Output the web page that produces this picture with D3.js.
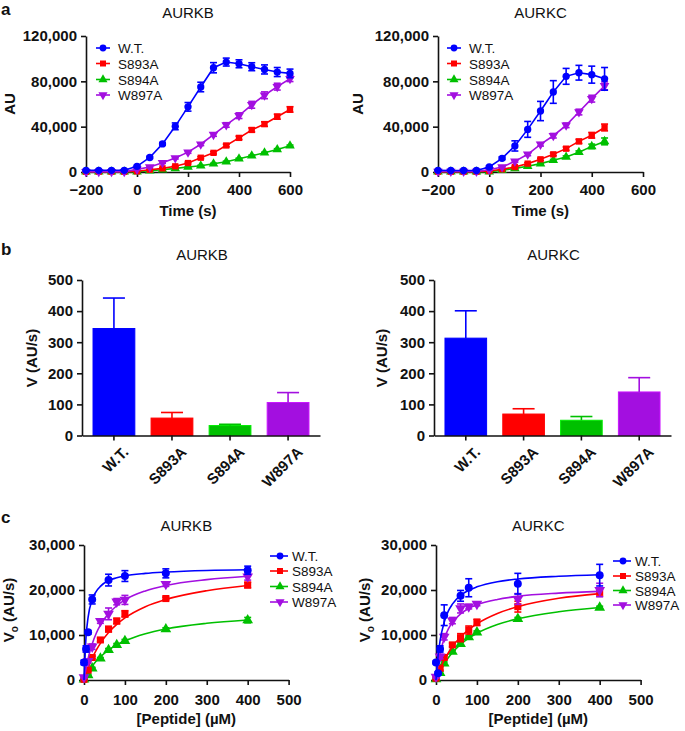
<!DOCTYPE html>
<html><head><meta charset="utf-8">
<script src="https://cdn.jsdelivr.net/npm/d3@7"></script>
<style>
body{margin:0;background:#fff}
svg{display:block}
text{font-family:"Liberation Sans",Arial,Helvetica,sans-serif}
</style></head>
<body><svg id="chart" width="685" height="731"></svg>
<script>
// ---------------- DATA ----------------
const seriesNames = ["W.T.", "S893A", "S894A", "W897A"];
const colors = ["#0000ff", "#ff0000", "#00c000", "#a30fe0"];
const shapes = ["circle", "square", "triangleUp", "triangleDown"];

// Panel a: time courses (AU)
const timeB = [-200,-150,-100,-50,0,50,100,150,200,250,300,350,400,450,500,550,600];
const aB_WT    = [1500,1500,1500,1500,5000,12800,24800,40300,57500,75000,92000,97000,95500,92900,90500,88200,87000];
const aB_S893A = [300,300,300,300,600,2000,3200,5000,7900,12600,16900,23400,30100,37100,42300,48800,55200];
const aB_S894A = [200,200,200,200,300,1200,2000,3200,4400,5500,7300,9100,11700,14300,16900,19900,23100];
const aB_W897A = [300,300,300,300,2300,4400,8200,12300,17500,24500,33000,41500,49700,59300,67700,75300,82300];
const eB_WT    = [600,600,600,600,700,900,1200,3000,3800,4200,4500,3500,3500,3500,4000,4000,3800];
const eB_S893A = [300,300,300,300,300,400,500,600,800,900,1000,1200,1500,1800,2000,2200,2400];
const eB_S894A = [200,200,200,200,200,200,300,300,300,400,400,500,500,600,600,700,700];
const eB_W897A = [300,300,300,300,400,500,600,800,1000,1200,1500,2000,2500,3000,3000,3000,2500];

const timeC = [-200,-150,-100,-50,0,50,100,150,200,250,300,350,400,450];
const aC_WT    = [1500,1300,1300,1300,4400,12100,23000,37600,53800,70600,84400,87600,85900,82200];
const aC_S893A = [300,300,300,300,900,2400,4400,7400,11200,15600,20600,27000,32400,39300];
const aC_S894A = [200,200,200,200,300,1500,3200,5000,7400,10300,13200,17400,22600,27000];
const aC_W897A = [500,500,500,500,2000,4400,9400,15600,24400,32000,41200,52900,64700,76000];
const eC_WT    = [500,500,500,500,800,1200,4500,7000,8500,10000,7000,6500,7500,10000];
const eC_S893A = [300,300,300,300,300,500,700,900,1000,1200,1500,1800,2500,3000];
const eC_S894A = [200,200,200,200,200,300,400,500,600,800,1000,1200,2000,3000];
const eC_W897A = [300,300,300,300,400,600,800,1200,1500,2000,2000,2500,3000,3500];

const timeTicks = [-200,0,200,400,600];
const auTicks = [0,40000,80000,120000];

// Panel b: velocities (AU/s)
const vB = [344, 56, 32, 106];
const vBerr = [98, 18, 4, 32];
const vC = [313, 69, 49, 140];
const vCerr = [88, 17, 12, 46];
const vTicks = [0,100,200,300,400,500];

// Panel c: Michaelis-Menten data (AU/s vs µM)
const pepWT_B = [0,5,10,20,60,100,200,400];
const pepMut = [0,10,20,40,60,80,100,200,400];
const pepWT_C = [0,5,10,20,60,80,200,400];
const cB_WT    = [3900,6900,10600,17900,22200,23100,23700,24400];
const cB_S893A = [150,2200,5000,8900,11300,13100,14700,18100,21100];
const cB_S894A = [150,1100,2600,4800,6700,7800,8700,11300,13300];
const cB_W897A = [600,4200,7400,13100,14700,17400,17800,21300,23000];
const ceB_WT    = [500,700,400,1000,1300,1200,1000,900];
const ceB_S893A = [200,300,300,400,600,600,700,300,600];
const ceB_S894A = [100,200,200,200,300,300,300,300,600];
const ceB_W897A = [200,400,600,500,1300,700,1000,500,800];
const cC_WT    = [3900,1500,6900,14400,18700,20500,21400,23300];
const cC_S893A = [400,2600,5000,7800,9400,11100,12800,16300,19500];
const cC_S894A = [200,1600,3700,6300,8000,9500,10600,13600,16100];
const cC_W897A = [700,5200,9600,13200,15900,16300,16900,18000,20000];
const ceC_WT    = [300,300,700,2300,1200,2000,2300,2400];
const ceC_S893A = [200,400,400,400,900,900,700,1200,900];
const ceC_S894A = [100,300,300,300,400,300,300,300,300];
const ceC_W897A = [300,500,700,700,1000,500,400,1200,1500];
// fitted curves
const fitX = [0,5,10,20,30,40,60,80,100,150,200,300,400];
const fitB_WT    = [0,9600,13900,17900,19700,20800,22100,22700,23150,23700,24000,24350,24500];
const fitB_S893A = [0,1400,2700,4850,6650,8150,10550,12350,13800,16300,17900,19850,21000];
const fitB_S894A = [0,900,1700,3050,4200,5150,6650,7800,8700,10300,11350,12600,13350];
const fitB_W897A = [0,2600,4750,8000,10400,12200,14750,16500,17800,19800,21000,22300,23050];
const fitC_WT    = [0,5300,8750,12850,15300,16850,18800,19950,20700,21850,22450,23050,23400];
const fitC_S893A = [0,1300,2400,4400,6000,7400,9550,11200,12500,14800,16300,18150,19200];
const fitC_S894A = [0,1050,1950,3600,4950,6050,7900,9300,10400,12350,13600,15150,16100];
const fitC_W897A = [0,3450,5900,9200,11300,12800,14700,15900,16700,17900,18600,19300,19700];
const pepTicks = [0,100,200,300,400,500];
const voTicks = [0,10000,20000,30000];

// ---------------- DRAWING ----------------
const svg = d3.select("#chart");
const fmt = d3.format(",");
const TICKFONT = 15;
const LEGFONT = 13.5;

function symbolPath(shape, size) {
  const t = {circle: d3.symbolCircle, square: d3.symbolSquare, triangleUp: d3.symbolTriangle, triangleDown: d3.symbolTriangle}[shape];
  return d3.symbol().type(t).size(size)();
}
function drawMarker(g, shape, x, y, size, color) {
  const p = g.append("path").attr("d", symbolPath(shape, size)).attr("fill", color);
  if (shape === "triangleDown") p.attr("transform", `translate(${x},${y}) rotate(180)`);
  else p.attr("transform", `translate(${x},${y})`);
}
function styleAxis(ax) {
  ax.selectAll("path.domain").attr("stroke", "#111").attr("stroke-width", 1.6);
  ax.selectAll(".tick line").attr("stroke", "#111").attr("stroke-width", 1.6);
  ax.selectAll(".tick text").attr("font-size", TICKFONT).attr("font-weight", "bold").attr("fill", "#111")
    .attr("font-family", '"Liberation Sans",Arial,sans-serif');
}
function errBar(g, x, yLo, yHi, color, cap) {
  g.append("line").attr("x1", x).attr("x2", x).attr("y1", yLo).attr("y2", yHi).attr("stroke", color).attr("stroke-width", 1.6);
  g.append("line").attr("x1", x - cap).attr("x2", x + cap).attr("y1", yHi).attr("y2", yHi).attr("stroke", color).attr("stroke-width", 1.6);
  g.append("line").attr("x1", x - cap).attr("x2", x + cap).attr("y1", yLo).attr("y2", yLo).attr("stroke", color).attr("stroke-width", 1.6);
}
function text(g, x, y, s, opts) {
  const t = g.append("text").attr("x", x).attr("y", y).text(s)
    .attr("font-size", opts.size || 15).attr("font-weight", opts.bold ? "bold" : "normal")
    .attr("text-anchor", opts.anchor || "middle").attr("fill", "#111");
  if (opts.rotate) t.attr("transform", `rotate(${opts.rotate},${x},${y})`);
  return t;
}
function legend(g, lx, tx, ys, size, lineL, lineR) {
  seriesNames.forEach((n, i) => {
    g.append("line").attr("x1", lx - lineL).attr("x2", lx + lineR).attr("y1", ys[i]).attr("y2", ys[i])
      .attr("stroke", colors[i]).attr("stroke-width", 1.6);
    drawMarker(g, shapes[i], lx, ys[i], size, colors[i]);
    text(g, tx, ys[i] + 5, n, {size: LEGFONT, anchor: "start"});
  });
}

// ---- Panel a ----
function panelA(left, right, times, vals, errs, title, legendX, ylabOff) {
  const g = svg.append("g");
  const x = d3.scaleLinear().domain([-200, 600]).range([left, right]);
  const y = d3.scaleLinear().domain([0, 120000]).range([172, 36]);
  const ax = g.append("g").attr("transform", "translate(0,172)")
    .call(d3.axisBottom(x).tickValues(timeTicks).tickFormat(fmt).tickSize(5).tickSizeOuter(0).tickPadding(7));
  const ay = g.append("g").attr("transform", `translate(${left},0)`)
    .call(d3.axisLeft(y).tickValues(auTicks).tickFormat(fmt).tickSize(5).tickSizeOuter(0).tickPadding(4));
  styleAxis(ax); styleAxis(ay);
  [2, 1, 3, 0].forEach(i => {
    const data = times.map((t, k) => ({t, v: vals[i][k], e: errs[i][k]}));
    g.append("path").datum(data).attr("fill", "none").attr("stroke", colors[i]).attr("stroke-width", 1.6)
      .attr("d", d3.line().x(d => x(d.t)).y(d => y(d.v)));
    data.forEach(d => errBar(g, x(d.t), y(d.v - d.e), y(d.v + d.e), colors[i], 3.5));
    data.forEach(d => drawMarker(g, shapes[i], x(d.t), y(d.v), i === 0 ? 42 : 40, colors[i]));
  });
  text(g, (left + right) / 2, 18, title, {size: 15});
  text(g, (left + right) / 2, 216, "Time (s)", {size: 15, bold: true});
  text(g, left - ylabOff, 104, "AU", {size: 15, bold: true, rotate: -90});
  legend(g, legendX, legendX + 15, [48, 63.5, 79.5, 95], 36, 7, 7);
}
panelA(86, 290, timeB, [aB_WT, aB_S893A, aB_S894A, aB_W897A], [eB_WT, eB_S893A, eB_S894A, eB_W897A], "AURKB", 103, 71);
panelA(438, 643, timeC, [aC_WT, aC_S893A, aC_S894A, aC_W897A], [eC_WT, eC_S893A, eC_S894A, eC_W897A], "AURKC", 454, 75);

// ---- Panel b ----
function panelB(left, right, vals, errs, title, ylabOff) {
  const g = svg.append("g");
  const x = d3.scaleBand().domain(seriesNames).range([left, right]).paddingInner(0.28).paddingOuter(0.19);
  const y = d3.scaleLinear().domain([0, 500]).range([435.5, 280]);
  seriesNames.forEach((n, i) => {
    g.append("rect").attr("x", x(n)).attr("width", x.bandwidth()).attr("y", y(vals[i])).attr("height", y(0) - y(vals[i]))
      .attr("fill", colors[i]).attr("stroke", d3.color(colors[i]).brighter(0.6)).attr("stroke-width", 1);
    const cx = x(n) + x.bandwidth() / 2;
    g.append("line").attr("x1", cx).attr("x2", cx).attr("y1", y(vals[i])).attr("y2", y(vals[i] + errs[i])).attr("stroke", colors[i]).attr("stroke-width", 1.6);
    g.append("line").attr("x1", cx - 11).attr("x2", cx + 11).attr("y1", y(vals[i] + errs[i])).attr("y2", y(vals[i] + errs[i])).attr("stroke", colors[i]).attr("stroke-width", 1.6);
  });
  const ax = g.append("g").attr("transform", "translate(0,435.5)")
    .call(d3.axisBottom(x).tickSize(5).tickSizeOuter(0).tickPadding(6));
  const ay = g.append("g").attr("transform", `translate(${left},0)`)
    .call(d3.axisLeft(y).tickValues(vTicks).tickSize(5).tickSizeOuter(0).tickPadding(4));
  styleAxis(ax); styleAxis(ay);
  ax.selectAll(".tick text").attr("text-anchor", "end").attr("dy", "0.35em")
    .attr("transform", "translate(4,6) rotate(-45)");
  text(g, (left + right) / 2 + 1, 260, title, {size: 15});
  text(g, left - ylabOff, 358, "V (AU/s)", {size: 15, bold: true, rotate: -90});
}
panelB(82, 320, vB, vBerr, "AURKB", 45);
panelB(434, 671, vC, vCerr, "AURKC", 47);

// ---- Panel c ----
function panelC(left, right, xs, vals, errs, fits, title, legX, legYs, ylabOff) {
  const g = svg.append("g");
  const x = d3.scaleLinear().domain([0, 500]).range([left, right]);
  const y = d3.scaleLinear().domain([0, 30000]).range([680, 545]);
  const ax = g.append("g").attr("transform", "translate(0,680)")
    .call(d3.axisBottom(x).tickValues(pepTicks).tickSize(5).tickSizeOuter(0).tickPadding(9));
  const ay = g.append("g").attr("transform", `translate(${left},0)`)
    .call(d3.axisLeft(y).tickValues(voTicks).tickFormat(fmt).tickSize(5).tickSizeOuter(0).tickPadding(4));
  styleAxis(ax); styleAxis(ay);
  [2, 1, 3, 0].forEach(i => {
    g.append("path").datum(fitX.map((px, k) => [px, fits[i][k]])).attr("fill", "none")
      .attr("stroke", colors[i]).attr("stroke-width", 1.6)
      .attr("d", d3.line().x(d => x(d[0])).y(d => y(d[1])).curve(d3.curveMonotoneX));
    xs[i].forEach((px, k) => {
      errBar(g, x(px), y(vals[i][k] - errs[i][k]), y(vals[i][k] + errs[i][k]), colors[i], 3.5);
      drawMarker(g, shapes[i], x(px), y(vals[i][k]), 50, colors[i]);
    });
  });
  text(g, (left + right) / 2, 531, title, {size: 15});
  text(g, (left + right) / 2, 724, "[Peptide] (\u00b5M)", {size: 15, bold: true});
  const yl = g.append("text").attr("transform", `translate(${left - ylabOff},610) rotate(-90)`)
    .attr("text-anchor", "middle").attr("font-size", 15).attr("font-weight", "bold").attr("fill", "#111");
  yl.append("tspan").text("V");
  yl.append("tspan").text("o").attr("font-size", 10).attr("dy", 4);
  yl.append("tspan").text(" (AU/s)").attr("dy", -4);
  legend(g, legX, legX + 12, legYs, 36, 10, 8);
}
panelC(84, 288.6, [pepWT_B, pepMut, pepMut, pepMut], [cB_WT, cB_S893A, cB_S894A, cB_W897A],
  [ceB_WT, ceB_S893A, ceB_S894A, ceB_W897A], [fitB_WT, fitB_S893A, fitB_S894A, fitB_W897A], "AURKB", 280, [556, 571, 586.5, 602], 70);
panelC(436, 640.6, [pepWT_C, pepMut, pepMut, pepMut], [cC_WT, cC_S893A, cC_S894A, cC_W897A],
  [ceC_WT, ceC_S893A, ceC_S894A, ceC_W897A], [fitC_WT, fitC_S893A, fitC_S894A, fitC_W897A], "AURKC", 623, [561, 576, 590.5, 605], 66);

// panel letters
text(svg, 1, 15, "a", {size: 17, bold: true, anchor: "start"});
text(svg, 1, 255, "b", {size: 17, bold: true, anchor: "start"});
text(svg, 1, 523, "c", {size: 17, bold: true, anchor: "start"});
</script></body></html>
